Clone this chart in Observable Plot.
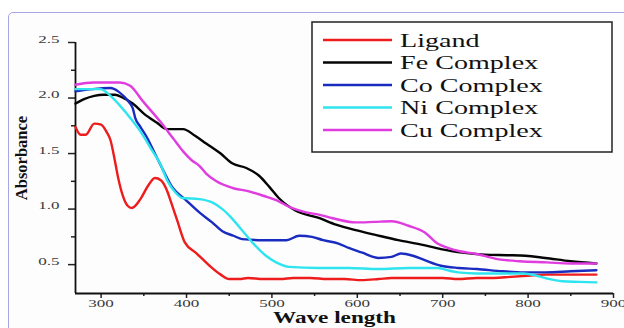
<!DOCTYPE html>
<html>
<head>
<meta charset="utf-8">
<script src="https://cdn.jsdelivr.net/npm/d3@7"></script>
<script src="https://cdn.jsdelivr.net/npm/@observablehq/plot@0.6"></script>
<style>
  html, body { margin: 0; padding: 0; background: #ffffff; }
  #wrap { position: relative; width: 624px; height: 328px; overflow: hidden; }
  #panel { position: absolute; left: 8px; top: 12px; width: 640px; height: 340px;
           border: 1.5px solid #a4a6e6; border-radius: 5px; background: #fdfdfd; box-sizing: border-box; }
  #chart { position: absolute; left: 0; top: 0; }
</style>
</head>
<body>
<div id="wrap"><div id="panel"></div><div id="chart"></div></div>
<script>
// ---- data ----
const seriesNames = ["Ligand", "Fe Complex", "Co Complex", "Ni Complex", "Cu Complex"];
const seriesColors = ["#ee1c1c", "#050505", "#1a2cc0", "#2ee4ee", "#e03ce0"];

const ligandWl  = [270,276,282,292,300,306,311,316,320,325,331,336,346,355,363,370,377,382,389,398,412,427,440,450,462,472,490,510,525,545,565,585,605,625,640,660,680,700,718,740,760,780,800,820,850,880];
const ligandAbs = [1.74,1.67,1.67,1.77,1.76,1.70,1.62,1.44,1.28,1.13,1.03,1.01,1.09,1.21,1.28,1.26,1.17,1.06,0.90,0.70,0.60,0.49,0.41,0.37,0.37,0.38,0.37,0.37,0.38,0.38,0.37,0.37,0.36,0.37,0.38,0.38,0.38,0.38,0.37,0.38,0.38,0.39,0.40,0.41,0.41,0.41];

const feWl  = [270,280,292,303,316,326,337,350,365,377,396,410,423,440,454,470,485,497,508,528,555,575,598,620,648,675,698,720,749,775,797,820,850,880];
const feAbs = [1.95,1.99,2.02,2.03,2.03,2.00,1.95,1.86,1.78,1.72,1.72,1.66,1.59,1.50,1.41,1.37,1.30,1.20,1.10,0.985,0.92,0.86,0.81,0.77,0.72,0.68,0.64,0.61,0.59,0.585,0.58,0.56,0.53,0.51];

const coWl  = [270,290,311,320,326,333,337,340,346,354,363,372,384,398,415,430,442,455,465,490,517,532,547,560,578,590,605,625,640,651,665,679,698,718,740,770,795,820,850,880];
const coAbs = [2.06,2.08,2.09,2.06,2.02,1.96,1.91,1.82,1.74,1.64,1.50,1.36,1.19,1.09,0.97,0.88,0.80,0.76,0.73,0.72,0.72,0.76,0.75,0.72,0.69,0.65,0.61,0.56,0.57,0.60,0.58,0.54,0.49,0.47,0.46,0.44,0.43,0.43,0.44,0.45];

const niWl  = [270,285,299,311,320,330,346,358,369,378,387,395,415,430,442,454,466,477,493,505,520,555,590,625,660,694,705,718,740,795,810,822,840,860,880];
const niAbs = [2.08,2.08,2.08,2.02,1.95,1.86,1.70,1.55,1.41,1.25,1.15,1.10,1.09,1.06,1.00,0.91,0.80,0.70,0.58,0.52,0.48,0.47,0.47,0.46,0.47,0.47,0.45,0.43,0.42,0.42,0.40,0.375,0.35,0.345,0.34];

const cuWl  = [270,291,322,334,349,369,384,396,406,415,423,435,454,473,490,505,523,540,555,570,598,620,640,660,679,694,706,720,737,764,790,822,850,880];
const cuAbs = [2.12,2.14,2.14,2.11,1.97,1.79,1.64,1.52,1.44,1.39,1.32,1.25,1.19,1.16,1.12,1.08,1.01,0.97,0.95,0.92,0.88,0.885,0.89,0.85,0.79,0.69,0.65,0.62,0.60,0.55,0.53,0.52,0.51,0.51];

const xMajorTicks = [300, 400, 500, 600, 700, 800, 900];
const xMinorTicks = [350, 450, 550, 650, 750, 850];
const yMajorTicks = [0.5, 1.0, 1.5, 2.0, 2.5];
const yMinorTicks = [0.75, 1.25, 1.75, 2.25];
const xLabel = "Wave length";
const yLabel = "Absorbance";

// ---- build table ----
const allWl = [ligandWl, feWl, coWl, niWl, cuWl];
const allAbs = [ligandAbs, feAbs, coAbs, niAbs, cuAbs];
const rows = [];
seriesNames.forEach((name, i) => {
  allWl[i].forEach((w, j) => rows.push({series: name, wl: w, abs: allAbs[i][j]}));
});

const serif = "'Liberation Serif', 'DejaVu Serif', serif";

const plot = Plot.plot({
  width: 624,
  height: 328,
  marginLeft: 75,
  marginRight: 11,
  marginTop: 42,
  marginBottom: 35,
  style: {background: "transparent", fontFamily: serif, fontSize: "11px", color: "#222"},
  x: {domain: [270, 900], label: null},
  y: {domain: [0.24, 2.5], label: null},
  color: {domain: seriesNames, range: seriesColors},
  marks: [
    Plot.axisX({ticks: xMinorTicks, tickSize: 3, text: null, label: null, strokeWidth: 1.5}),
    Plot.axisX({ticks: xMajorTicks, tickSize: 5, tickPadding: 8, label: null, strokeWidth: 1.5, fill: "#3a3a3a", tickFormat: d3.format("d")}),
    Plot.axisY({ticks: yMinorTicks, tickSize: 4, text: null, label: null, strokeWidth: 1.5}),
    Plot.axisY({ticks: yMajorTicks, tickSize: 7, tickPadding: 9, label: null, strokeWidth: 1.5, fill: "#3a3a3a", tickFormat: d3.format(".1f")}),
    Plot.ruleX([270], {stroke: "#111", strokeWidth: 1.8}),
    Plot.ruleY([0.24], {stroke: "#111", strokeWidth: 1.8}),
    Plot.line(rows, {x: "wl", y: "abs", z: "series", stroke: "series", strokeWidth: 2.4, curve: "monotone-x"}),
    Plot.text([yLabel], {frameAnchor: "left", textAnchor: "middle", dx: -54, dy: -10, rotate: -90, fontSize: 16.5, fontWeight: "bold", fill: "#111"}),
    Plot.text([xLabel], {frameAnchor: "bottom", textAnchor: "middle", lineAnchor: "bottom", dx: -10, dy: 29, fontSize: 16, fontWeight: "bold", fill: "#111"})
  ]
});

// stretch horizontal texts horizontally to match the reference's aspect
function stretch(nodes, s) {
  nodes.forEach(t => {
    let tr = t.getAttribute("transform") || "";
    if (t.hasAttribute("x") || t.hasAttribute("y")) {
      const x = +t.getAttribute("x") || 0, y = +t.getAttribute("y") || 0;
      t.removeAttribute("x"); t.removeAttribute("y");
      tr = tr + ` translate(${x},${y})`;
    }
    t.setAttribute("transform", tr + ` scale(${s},1)`);
  });
}
stretch(plot.querySelectorAll('g[aria-label="x-axis tick label"] text, g[aria-label="y-axis tick label"] text'), 1.55);
stretch([...plot.querySelectorAll("text")].filter(t => t.textContent === xLabel), 1.45);

// legend
const svg = d3.select(plot);
const lg = svg.append("g").attr("font-family", serif).attr("text-anchor", "start");
lg.append("rect").attr("x", 312).attr("y", 22).attr("width", 300).attr("height", 130)
  .attr("fill", "#ffffff").attr("stroke", "#222").attr("stroke-width", 1.5);
seriesNames.forEach((name, i) => {
  const y = 40 + i * 22.5;
  lg.append("line").attr("x1", 323).attr("x2", 392).attr("y1", y).attr("y2", y)
    .attr("stroke", seriesColors[i]).attr("stroke-width", 2.6);
  lg.append("text").attr("transform", `translate(400,${y}) scale(1.48,1)`).attr("dy", "0.35em")
    .attr("text-anchor", "start").attr("font-size", 19).attr("fill", "#111").text(name);
});

document.getElementById("chart").appendChild(plot);
</script>
</body>
</html>
